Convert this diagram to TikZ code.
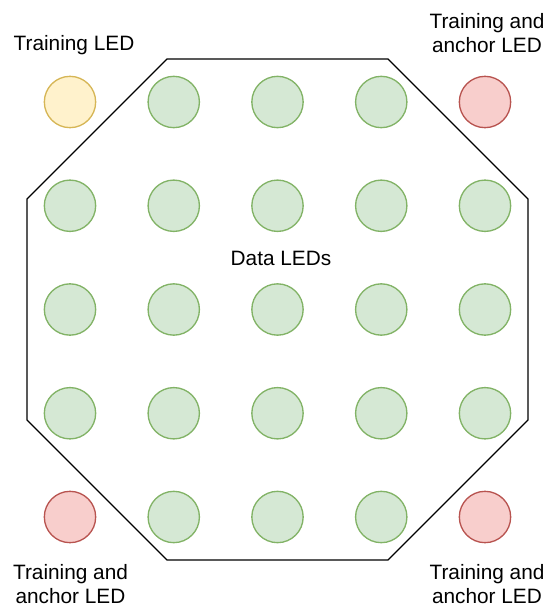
\documentclass[tikz,border=0pt]{standalone}
\usepackage{fontspec}
\setmainfont{Liberation Sans}
\usepackage{tikz}
\usetikzlibrary{positioning}
\definecolor{LEDGreenFill}{HTML}{D5E8D4}
\definecolor{LEDGreenLine}{HTML}{82B366}
\definecolor{LEDYellowFill}{HTML}{FFF2CC}
\definecolor{LEDYellowLine}{HTML}{D6B656}
\definecolor{LEDRedFill}{HTML}{F8CECC}
\definecolor{LEDRedLine}{HTML}{B85450}
\begin{document}
\begin{tikzpicture}[
  x=0.75pt,y=-0.75pt,
  led/.style={circle,line width=1pt,minimum size=38.5pt,inner sep=0pt},
  dataled/.style={led,draw=LEDGreenLine,fill=LEDGreenFill},
  trainled/.style={led,draw=LEDYellowLine,fill=LEDYellowFill},
  anchorled/.style={led,draw=LEDRedLine,fill=LEDRedFill},
  caption/.style={font=\fontsize{15.6}{18}\selectfont,align=center,inner sep=0pt,anchor=base},
  board/.style={draw=black,line width=1pt}
]
\useasboundingbox (0,0) rectangle (544,607);

% board outline
\draw[board] (167,59) -- (388,59) -- (528,199) -- (528,420) -- (388,560)
  -- (167,560) -- (27,420) -- (27,199) -- cycle;

% corner LEDs
\node[trainled] (tl) at (70,102) {};
\node[anchorled] (tr) at (485,102) {};
\node[anchorled] (bl) at (70,517) {};
\node[anchorled] (br) at (485,517) {};

% data LEDs
\foreach \r in {0,...,4}
  \foreach \c in {0,...,4} {
    \pgfmathtruncatemacro{\corner}{(\r==0 || \r==4) && (\c==0 || \c==4)}
    \ifnum\corner=0
      \node[dataled] (led-\r-\c) at ({70+103.75*\c},{102+103.75*\r}) {};
    \fi
  }

% labels (base = last line)
\node[caption] (tllabel) at (74,50) {Training LED};
\node[caption] (trlabel) at (487,52) {Training and\\anchor LED};
\node[caption] (bllabel) at (70.5,603) {Training and\\anchor LED};
\node[caption] (brlabel) at (487,603) {Training and\\anchor LED};
\node[caption] (datalabel) at (281,265) {Data LEDs};
\end{tikzpicture}
\end{document}
